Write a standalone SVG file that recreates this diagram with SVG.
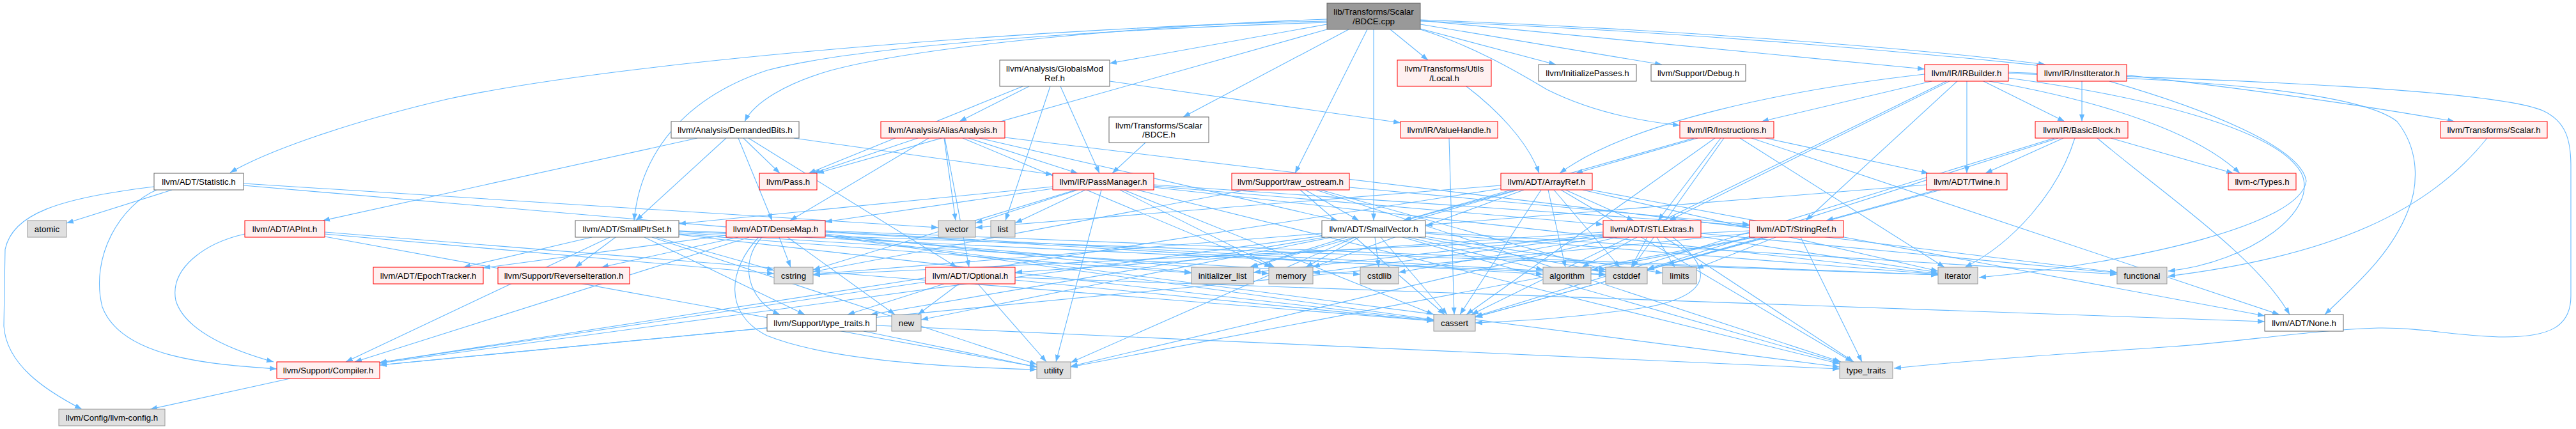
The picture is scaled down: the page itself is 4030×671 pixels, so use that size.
<svg xmlns="http://www.w3.org/2000/svg" width="4030" height="671" viewBox="0 0 4030 671">
<style>
text{font-family:"Liberation Sans",Arial,sans-serif;font-size:13.33px;fill:#000;text-anchor:middle}
.w{fill:#fff;stroke:#666;stroke-width:1}
.r{fill:#FFF0F0;stroke:#f00;stroke-width:1}
.g{fill:#E0E0E0;stroke:#999;stroke-width:1}
.root{fill:#999;stroke:#666;stroke-width:1}
#edges path{fill:none;stroke:#63B8FF;stroke-width:1.1}
</style>
<defs>
<marker id="arr" markerUnits="userSpaceOnUse" markerWidth="13" markerHeight="10" refX="11" refY="4" orient="auto"><path d="M0,0 L11,4 L0,8 z" fill="#63B8FF" stroke="none"/></marker>
</defs>
<rect width="4030" height="671" fill="#fff"/>
<g id="edges" marker-end="url(#arr)">
<path d="M2110,46 L1851,183"/>
<path d="M2076,35 C1750,45 1350,70 1200,110 C1050,160 1000,260 992,345"/>
<path d="M2149,46 L2149,345"/>
<path d="M2076,33 C1700,40 1000,90 700,155 C550,190 420,235 360,270"/>
<path d="M2076,30 C1800,40 1450,70 1300,110 C1230,130 1180,160 1165,190"/>
<path d="M2076,38 L1736,99"/>
<path d="M2222,32 L3011,108"/>
<path d="M2222,31 C2600,45 3000,75 3200,101"/>
<path d="M2222,46 C2300,70 2370,110 2420,140 C2490,175 2570,190 2628,196"/>
<path d="M2222,45 L2434,101"/>
<path d="M2076,46 L1278,271"/>
<path d="M2222,38 L2600,101"/>
<path d="M2139,46 L2026,271"/>
<path d="M2222,33 C2900,60 3500,130 3840,190"/>
<path d="M2175,46 L2234,94"/>
<path d="M1610,135 L1501,190"/>
<path d="M1659,135 L1720,271"/>
<path d="M1736,127 L2191,192"/>
<path d="M1600,135 L1265,271"/>
<path d="M1643,135 L1573,345"/>
<path d="M2294,135 C2340,170 2390,220 2408,271"/>
<path d="M3112,127 C3300,160 3440,210 3504,271"/>
<path d="M3011,116 C2800,140 2550,190 2440,271"/>
<path d="M3142,115 C3500,125 3700,150 3750,190 C3790,240 3780,300 3767,330 C3740,400 3680,450 3637,492"/>
<path d="M3050,127 L2611,345"/>
<path d="M3062,127 L2825,345"/>
<path d="M3077,127 L3077,271"/>
<path d="M3103,127 L3230,190"/>
<path d="M3022,127 L2756,190"/>
<path d="M3045,127 L2302,492"/>
<path d="M3142,122 C3350,150 3560,200 3600,270 C3630,330 3520,410 3392,424"/>
<path d="M3142,113 C3500,125 3900,140 3978,173 C4015,190 4022,220 4022,260 L4022,463 C4022,510 3990,527 3918,527 C3850,527 3790,512 3721,513 C3620,516 3500,535 3400,542 C3250,552 3100,562 2963,576"/>
<path d="M3257,127 L3257,190"/>
<path d="M3300,127 C3450,170 3600,230 3608,283 C3600,350 3350,410 3096,434"/>
<path d="M1091,216 L505,345"/>
<path d="M1155,216 L1208,345"/>
<path d="M1171,216 L1497,418"/>
<path d="M1136,216 L995,345"/>
<path d="M1242,216 L1647,273"/>
<path d="M1163,216 L1220,271"/>
<path d="M1453,216 L1236,345"/>
<path d="M1478,216 L1516,418"/>
<path d="M1532,216 L2093,345"/>
<path d="M1515,216 L1686,271"/>
<path d="M1436,216 L1272,271"/>
<path d="M1572,215 L3312,426"/>
<path d="M1506,216 L1989,418"/>
<path d="M1477,216 L1495,345"/>
<path d="M1792,223 L1740,271"/>
<path d="M2267,216 L2275,492"/>
<path d="M2656,216 L2465,271"/>
<path d="M2740,216 L3566,492"/>
<path d="M2692,216 L2594,345"/>
<path d="M2650,216 L2195,345"/>
<path d="M2762,216 L3017,271"/>
<path d="M2722,216 L3042,418"/>
<path d="M2683,216 L2294,492"/>
<path d="M2697,216 L2554,418"/>
<path d="M3302,216 L3494,271"/>
<path d="M3228,216 L3106,271"/>
<path d="M3246,216 C3220,300 3150,380 3074,418"/>
<path d="M3281,216 C3380,300 3530,400 3582,492"/>
<path d="M3214,216 L2308,495"/>
<path d="M3220,216 L2577,421"/>
<path d="M3891,216 C3800,330 3650,400 3392,432"/>
<path d="M241,292 C90,310 20,335 8,390 L6,510 C10,570 70,610 128,640"/>
<path d="M245,297 C190,320 140,400 160,480 C190,560 330,570 433,577"/>
<path d="M269,297 L104,349"/>
<path d="M381,290 L1985,428"/>
<path d="M381,287 L1468,356"/>
<path d="M1647,295 L1291,347"/>
<path d="M1805,291 L2508,351"/>
<path d="M1647,292 L1062,350"/>
<path d="M1805,289 L2737,353"/>
<path d="M1758,297 L2243,492"/>
<path d="M1683,297 L1272,422"/>
<path d="M1805,293 L3032,428"/>
<path d="M1698,297 L1588,349"/>
<path d="M1752,297 L1994,418"/>
<path d="M1779,297 L2878,569"/>
<path d="M1723,297 L1652,566"/>
<path d="M1686,297 L1526,349"/>
<path d="M2042,297 L2126,345"/>
<path d="M2111,293 L2737,351"/>
<path d="M2034,297 L2260,492"/>
<path d="M2066,297 L2512,422"/>
<path d="M1950,297 L1272,425"/>
<path d="M2059,297 L2880,566"/>
<path d="M2489,297 L3543,494"/>
<path d="M2372,297 L2197,345"/>
<path d="M2449,297 L2556,345"/>
<path d="M2348,295 L594,567"/>
<path d="M2422,297 L2449,418"/>
<path d="M2411,297 L2284,492"/>
<path d="M2431,297 L2534,418"/>
<path d="M2375,297 L1957,418"/>
<path d="M2476,297 L3032,424"/>
<path d="M2384,297 L2054,418"/>
<path d="M2442,297 L2898,566"/>
<path d="M2348,290 L1526,356"/>
<path d="M3014,289 L2230,352"/>
<path d="M3030,297 L2857,345"/>
<path d="M3036,297 L2308,496"/>
<path d="M383,366 C320,380 265,420 275,470 C290,520 370,550 428,566"/>
<path d="M508,363 L2243,502"/>
<path d="M508,366 L1211,428"/>
<path d="M508,370 L1622,574"/>
<path d="M926,371 L725,418"/>
<path d="M954,371 L541,566"/>
<path d="M963,371 L900,418"/>
<path d="M1008,371 L1259,492"/>
<path d="M1062,367 L2243,501"/>
<path d="M1062,362 L2512,430"/>
<path d="M1062,364 L2128,429"/>
<path d="M1027,371 L1211,423"/>
<path d="M1062,366 L1864,427"/>
<path d="M1062,361 L3032,430"/>
<path d="M1020,371 L1622,570"/>
<path d="M1136,368 L756,419"/>
<path d="M1172,371 L555,566"/>
<path d="M1155,371 L941,418"/>
<path d="M1192,371 C1155,410 1170,470 1220,492"/>
<path d="M1291,363 L2414,429"/>
<path d="M1291,369 L2243,500"/>
<path d="M1291,362 L2512,429"/>
<path d="M1219,371 L1237,418"/>
<path d="M1291,366 L1864,426"/>
<path d="M1291,361 L3032,430"/>
<path d="M1232,371 L1400,492"/>
<path d="M1291,368 L2878,574"/>
<path d="M1187,371 C1140,420 1130,490 1200,525 C1300,565 1500,575 1622,578"/>
<path d="M2068,369 L594,568"/>
<path d="M2073,371 L1362,492"/>
<path d="M2203,371 L2414,422"/>
<path d="M2160,371 L2264,492"/>
<path d="M2219,371 L2512,425"/>
<path d="M2151,371 L2157,418"/>
<path d="M2068,365 L1272,429"/>
<path d="M2230,363 L3312,429"/>
<path d="M2107,371 L1955,418"/>
<path d="M2230,365 L3032,429"/>
<path d="M2230,370 L2601,427"/>
<path d="M2126,371 L2043,418"/>
<path d="M2084,371 L1441,500"/>
<path d="M2194,371 L2878,567"/>
<path d="M2120,371 L1675,567"/>
<path d="M2508,363 L1588,426"/>
<path d="M2561,371 L2475,418"/>
<path d="M2617,371 C2680,420 2680,460 2580,480 C2450,500 2350,503 2308,505"/>
<path d="M2577,371 L2552,418"/>
<path d="M2509,371 L2188,426"/>
<path d="M2661,365 L3312,427"/>
<path d="M2508,366 L1961,426"/>
<path d="M2661,370 L3032,426"/>
<path d="M2592,371 L2620,418"/>
<path d="M2508,368 L2054,427"/>
<path d="M2604,371 L2900,566"/>
<path d="M2530,371 L1675,573"/>
<path d="M2737,365 L594,571"/>
<path d="M2746,371 L2489,423"/>
<path d="M2763,371 L2308,496"/>
<path d="M2758,371 L2577,422"/>
<path d="M2737,361 L1272,430"/>
<path d="M2778,371 L2654,420"/>
<path d="M2817,371 L2913,566"/>
<path d="M2742,371 L1675,574"/>
<path d="M1588,434 L3543,503"/>
<path d="M1448,441 L594,567"/>
<path d="M1477,444 L1326,492"/>
<path d="M1588,438 L2243,502"/>
<path d="M1500,444 L1436,492"/>
<path d="M1530,444 L1637,566"/>
<path d="M1200,513 L594,571"/>
<path d="M1371,509 L2878,577"/>
<path d="M1351,518 L1622,574"/>
<path d="M454,592 L235,640"/>
</g>
<g id="n_root"><rect class="root" x="2076" y="5" width="146" height="41"/><text x="2149" y="23">lib/Transforms/Scalar</text><text x="2149" y="37.5">/BDCE.cpp</text></g>
<g id="n_gmr"><rect class="w" x="1564" y="94" width="172" height="41"/><text x="1650" y="112">llvm/Analysis/GlobalsMod</text><text x="1650" y="126.5">Ref.h</text></g>
<g id="n_local"><rect class="r" x="2186" y="94" width="147" height="41"/><text x="2259.5" y="112">llvm/Transforms/Utils</text><text x="2259.5" y="126.5">/Local.h</text></g>
<g id="n_initp"><rect class="w" x="2407" y="101" width="153" height="26"/><text x="2483.5" y="118.7">llvm/InitializePasses.h</text></g>
<g id="n_debug"><rect class="w" x="2583" y="101" width="148" height="26"/><text x="2657" y="118.7">llvm/Support/Debug.h</text></g>
<g id="n_irb"><rect class="r" x="3011" y="101" width="131" height="26"/><text x="3076.5" y="118.7">llvm/IR/IRBuilder.h</text></g>
<g id="n_instit"><rect class="r" x="3187" y="101" width="140" height="26"/><text x="3257" y="118.7">llvm/IR/InstIterator.h</text></g>
<g id="n_db"><rect class="w" x="1050" y="190" width="200" height="26"/><text x="1150" y="207.7">llvm/Analysis/DemandedBits.h</text></g>
<g id="n_aa"><rect class="r" x="1378" y="190" width="194" height="26"/><text x="1475" y="207.7">llvm/Analysis/AliasAnalysis.h</text></g>
<g id="n_bdceh"><rect class="w" x="1735" y="183" width="156" height="40"/><text x="1813" y="200.5">llvm/Transforms/Scalar</text><text x="1813" y="215">/BDCE.h</text></g>
<g id="n_vh"><rect class="r" x="2191" y="190" width="152" height="26"/><text x="2267" y="207.7">llvm/IR/ValueHandle.h</text></g>
<g id="n_instr"><rect class="r" x="2628" y="190" width="147" height="26"/><text x="2701.5" y="207.7">llvm/IR/Instructions.h</text></g>
<g id="n_bb"><rect class="r" x="3184" y="190" width="145" height="26"/><text x="3256.5" y="207.7">llvm/IR/BasicBlock.h</text></g>
<g id="n_scalar"><rect class="r" x="3818" y="190" width="167" height="26"/><text x="3901.5" y="207.7">llvm/Transforms/Scalar.h</text></g>
<g id="n_stat"><rect class="w" x="241" y="271" width="140" height="26"/><text x="311" y="288.7">llvm/ADT/Statistic.h</text></g>
<g id="n_pass"><rect class="r" x="1188" y="271" width="90" height="26"/><text x="1233" y="288.7">llvm/Pass.h</text></g>
<g id="n_pm"><rect class="r" x="1647" y="271" width="158" height="26"/><text x="1726" y="288.7">llvm/IR/PassManager.h</text></g>
<g id="n_ros"><rect class="r" x="1927" y="271" width="184" height="26"/><text x="2019" y="288.7">llvm/Support/raw_ostream.h</text></g>
<g id="n_ar"><rect class="r" x="2348" y="271" width="143" height="26"/><text x="2419.5" y="288.7">llvm/ADT/ArrayRef.h</text></g>
<g id="n_twine"><rect class="r" x="3014" y="271" width="126" height="26"/><text x="3077" y="288.7">llvm/ADT/Twine.h</text></g>
<g id="n_types"><rect class="r" x="3486" y="271" width="106" height="26"/><text x="3539" y="288.7">llvm-c/Types.h</text></g>
<g id="n_atomic"><rect class="g" x="43" y="345" width="61" height="26"/><text x="73.5" y="362.7">atomic</text></g>
<g id="n_apint"><rect class="r" x="383" y="345" width="125" height="26"/><text x="445.5" y="362.7">llvm/ADT/APInt.h</text></g>
<g id="n_sps"><rect class="w" x="900" y="345" width="162" height="26"/><text x="981" y="362.7">llvm/ADT/SmallPtrSet.h</text></g>
<g id="n_dm"><rect class="r" x="1136" y="345" width="155" height="26"/><text x="1213.5" y="362.7">llvm/ADT/DenseMap.h</text></g>
<g id="n_vector"><rect class="g" x="1468" y="345" width="58" height="26"/><text x="1497" y="362.7">vector</text></g>
<g id="n_list"><rect class="g" x="1550" y="345" width="38" height="26"/><text x="1569" y="362.7">list</text></g>
<g id="n_sv"><rect class="w" x="2068" y="345" width="162" height="26"/><text x="2149" y="362.7">llvm/ADT/SmallVector.h</text></g>
<g id="n_stle"><rect class="r" x="2508" y="345" width="153" height="26"/><text x="2584.5" y="362.7">llvm/ADT/STLExtras.h</text></g>
<g id="n_sr"><rect class="r" x="2737" y="345" width="147" height="26"/><text x="2810.5" y="362.7">llvm/ADT/StringRef.h</text></g>
<g id="n_epoch"><rect class="r" x="584" y="418" width="172" height="26"/><text x="670" y="435.7">llvm/ADT/EpochTracker.h</text></g>
<g id="n_revit"><rect class="r" x="779" y="418" width="206" height="26"/><text x="882" y="435.7">llvm/Support/ReverseIteration.h</text></g>
<g id="n_cstring"><rect class="g" x="1211" y="418" width="61" height="26"/><text x="1241.5" y="435.7">cstring</text></g>
<g id="n_opt"><rect class="r" x="1448" y="418" width="140" height="26"/><text x="1518" y="435.7">llvm/ADT/Optional.h</text></g>
<g id="n_initl"><rect class="g" x="1864" y="418" width="97" height="26"/><text x="1912.5" y="435.7">initializer_list</text></g>
<g id="n_memory"><rect class="g" x="1985" y="418" width="69" height="26"/><text x="2019.5" y="435.7">memory</text></g>
<g id="n_cstdlib"><rect class="g" x="2128" y="418" width="60" height="26"/><text x="2158" y="435.7">cstdlib</text></g>
<g id="n_algorithm"><rect class="g" x="2414" y="418" width="75" height="26"/><text x="2451.5" y="435.7">algorithm</text></g>
<g id="n_cstddef"><rect class="g" x="2512" y="418" width="65" height="26"/><text x="2544.5" y="435.7">cstddef</text></g>
<g id="n_limits"><rect class="g" x="2601" y="418" width="53" height="26"/><text x="2627.5" y="435.7">limits</text></g>
<g id="n_iterator"><rect class="g" x="3032" y="418" width="62" height="26"/><text x="3063" y="435.7">iterator</text></g>
<g id="n_functional"><rect class="g" x="3312" y="418" width="78" height="26"/><text x="3351" y="435.7">functional</text></g>
<g id="n_stt"><rect class="w" x="1200" y="492" width="171" height="26"/><text x="1285.5" y="509.7">llvm/Support/type_traits.h</text></g>
<g id="n_new"><rect class="g" x="1395" y="492" width="46" height="26"/><text x="1418" y="509.7">new</text></g>
<g id="n_cassert"><rect class="g" x="2243" y="492" width="65" height="26"/><text x="2275.5" y="509.7">cassert</text></g>
<g id="n_none"><rect class="w" x="3543" y="492" width="123" height="26"/><text x="3604.5" y="509.7">llvm/ADT/None.h</text></g>
<g id="n_compiler"><rect class="r" x="433" y="566" width="161" height="26"/><text x="513.5" y="583.7">llvm/Support/Compiler.h</text></g>
<g id="n_utility"><rect class="g" x="1622" y="566" width="53" height="26"/><text x="1648.5" y="583.7">utility</text></g>
<g id="n_typetraits"><rect class="g" x="2878" y="566" width="83" height="26"/><text x="2919.5" y="583.7">type_traits</text></g>
<g id="n_config"><rect class="g" x="92" y="640" width="166" height="26"/><text x="175" y="657.7">llvm/Config/llvm-config.h</text></g>
</svg>
